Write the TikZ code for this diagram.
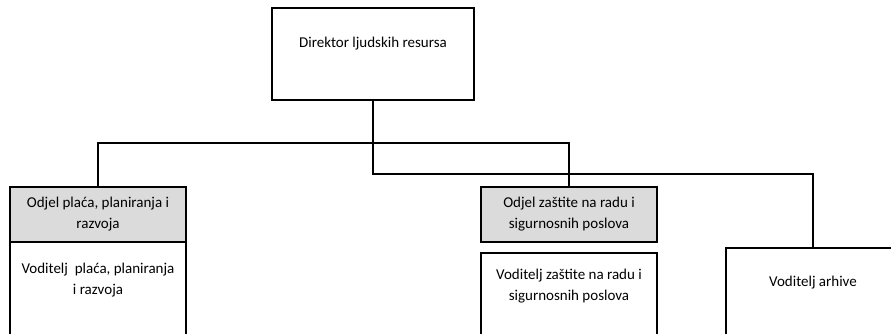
\documentclass[tikz,border=0pt]{standalone}
\usepackage{fontspec}
\setmainfont{Carlito}
\usetikzlibrary{positioning}

\tikzset{
  unit/.style={rectangle,draw,line width=1.3pt,inner sep=0pt},
  head/.style={unit,fill=black!14,align=center,font=\fontsize{15}{21}\selectfont},
  txt/.style={align=center,inner sep=0pt,anchor=north,font=\fontsize{15}{21}\selectfont},
  link/.style={line width=1.3pt}
}

\begin{document}
\begin{tikzpicture}[x=1pt,y=-1pt]
\useasboundingbox (0,0) rectangle (891,333);
\clip (0,0) rectangle (891,333);

% top
\path (373,54) node[unit,minimum width=202pt,minimum height=92pt] (dir) {};
\path (373,37) node[txt] (dirT) {Direktor ljudskih resursa};

% left branch
\path (98,214.5) node[head,minimum width=176pt,minimum height=55pt] (odjP)
  {Odjel plaća, planiranja i\\razvoja};
\path (98,301) node[unit,minimum width=176pt,minimum height=118pt] (vodP) {};
\path (98,263) node[txt] (vodPT) {Voditelj\ \ plaća, planiranja\\i razvoja};

% middle branch
\path (569,214.5) node[head,minimum width=176pt,minimum height=55pt] (odjZ)
  {Odjel zaštite na radu i\\sigurnosnih poslova};
\path (569,306.5) node[unit,minimum width=176pt,minimum height=107pt] (vodZ) {};
\path (569,269) node[txt] (vodZT) {Voditelj zaštite na radu i\\sigurnosnih poslova};

% right branch
\path (813,304) node[unit,minimum width=174pt,minimum height=112pt] (arh) {};
\path (813,276) node[txt] (arhT) {Voditelj arhive};

% connectors
\coordinate (bus1) at (373,143);
\coordinate (bus2) at (373,174);
\draw[link] (dir.south) -- (bus2) -| (arh.north);
\draw[link] (odjP.north) |- (bus1) -| (odjZ.north);
\end{tikzpicture}
\end{document}
